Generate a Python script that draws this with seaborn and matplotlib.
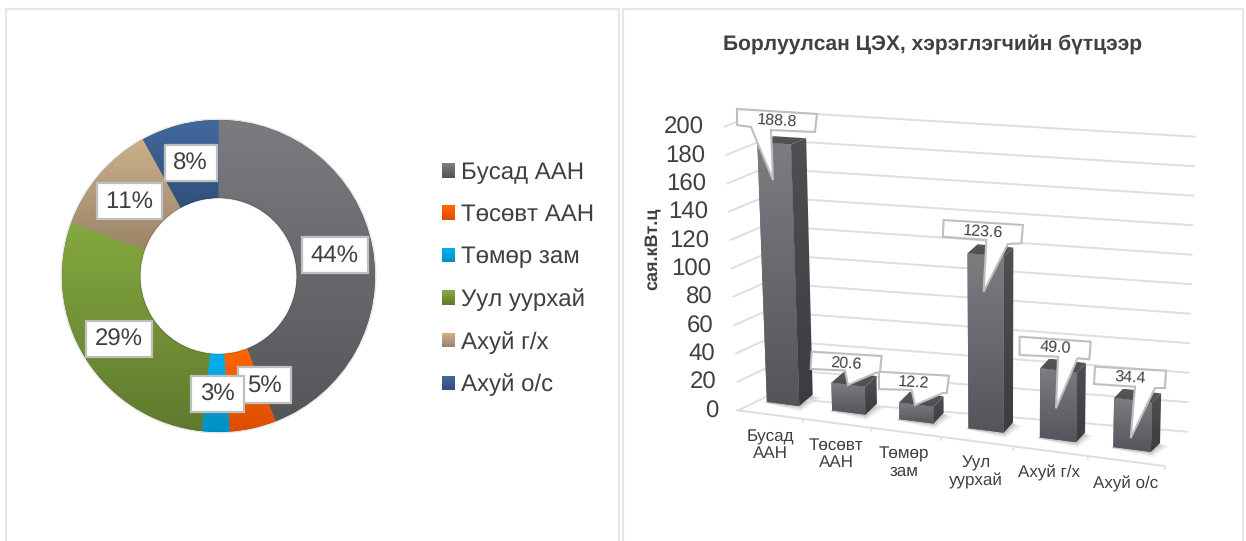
import numpy as np
import pandas as pd
import matplotlib
matplotlib.use("Agg")
import matplotlib.pyplot as plt
import matplotlib.transforms as mtransforms
from matplotlib.colors import to_rgb
from matplotlib.legend_handler import HandlerBase
from matplotlib.patches import Circle, Patch, Polygon, Rectangle
import seaborn as sns

# ---------- data ----------
legend_labels = ["Бусад ААН", "Төсөвт ААН", "Төмөр зам", "Уул уурхай", "Ахуй г/х", "Ахуй о/с"]
bar_categories = ["Бусад\nААН", "Төсөвт\nААН", "Төмөр\nзам", "Уул\nуурхай", "Ахуй г/х", "Ахуй о/с"]
values = [188.8, 20.6, 12.2, 123.6, 49.0, 34.4]
value_ticks = [0, 20, 40, 60, 80, 100, 120, 140, 160, 180, 200]
title = "Борлуулсан ЦЭХ, хэрэглэгчийн бүтцээр"
y_label = "сая.кВт.ц"

# ---------- styles ----------
top_colors = ["#7a7c80", "#ff6600", "#00b0f0", "#84a83f", "#cbb08a", "#41699c"]
bottom_colors = ["#55565a", "#dd4d00", "#0090c4", "#5f7a2e", "#9b8468", "#2f5079"]
TXT = "#404040"
GRID = "#dedede"
BOX = "#bfbfbf"

sns.set_theme(style="white")
plt.rcParams["font.family"] = ["Liberation Sans", "DejaVu Sans"]
plt.rcParams["text.hinting"] = "no_hinting"
plt.rcParams["text.hinting_factor"] = 1
plt.rcParams["text.kerning_factor"] = 6

W, H = 1246, 541
fig = plt.figure(figsize=(W / 100, H / 100), dpi=100, facecolor="white")


def pixel_axes(zorder, x0=0, y0=0, x1=W, y1=H):
    ax = fig.add_axes([x0 / W, 1 - y1 / H, (x1 - x0) / W, (y1 - y0) / H], zorder=zorder)
    ax.set_axis_off()
    ax.patch.set_alpha(0)
    return ax


page = pixel_axes(0)
page.set_xlim(0, W)
page.set_ylim(H, 0)
over = pixel_axes(3)
over.set_xlim(0, W)
over.set_ylim(H, 0)


def gradient(top, bottom, n=64):
    a, b = np.array(to_rgb(top)), np.array(to_rgb(bottom))
    return np.linspace(a, b, n).reshape(n, 1, 3)


# panel frames
for x0, x1 in [(6, 619), (622.5, 1243)]:
    page.add_patch(Rectangle((x0, 9), x1 - x0, H, fc="white", ec="#e6e6e6", lw=1.5))

# ---------- donut ----------
ax_pie = pixel_axes(1, 62, 120, 375, 432)
wedges, _ = ax_pie.pie(values, startangle=90, counterclock=False, radius=1,
                       colors=bottom_colors, wedgeprops=dict(width=0.5, linewidth=0))
for w, top, bot in zip(wedges, top_colors, bottom_colors):
    e = w.get_path().get_extents()
    im = ax_pie.imshow(gradient(top, bot), extent=(e.x0, e.x1, e.y0, e.y1),
                       aspect="auto", interpolation="bilinear", zorder=2)
    im.set_clip_path(w)
for r in (0.5, 1.004):
    ax_pie.add_patch(Circle((0, 0), r, fc="none", ec="black", lw=1.3, alpha=0.10, zorder=3, clip_on=False))
ax_pie.set_xlim(-1, 1)
ax_pie.set_ylim(-1, 1)

total = sum(values)
pct_boxes = [(302, 237, 367.5, 273), (238, 367, 290.5, 403), (191, 376, 244, 412),
             (86, 321, 152, 357), (97, 183, 162, 218.5), (164.5, 145, 216.5, 181)]
pct_order = [0, 1, 3, 4, 5, 2]
for i in pct_order:
    x0, y0, x1, y1 = pct_boxes[i]
    over.add_patch(Rectangle((x0, y0), x1 - x0, y1 - y0, fc="white", ec=BOX, lw=1.6))
    over.text((x0 + x1) / 2, (y0 + y1) / 2 + 0.5, f"{values[i] / total:.0%}", ha="center",
              va="center", fontsize=17.5, color=TXT)


# legend with gradient swatches
class GradientHandler(HandlerBase):
    def create_artists(self, legend, orig, xd, yd, width, height, fontsize, trans):
        n = 8
        grad = gradient(orig.top, orig.bot, n)
        return [Rectangle((xd * -1, -yd + height * (n - 1 - k) / n), width, height / n + 0.1,
                          fc=grad[k, 0], ec="none", transform=trans) for k in range(n)]


handles = []
for lab, t, b in zip(legend_labels, top_colors, bottom_colors):
    h = Patch(label=lab)
    h.top, h.bot = t, b
    handles.append(h)
page.legend(handles=handles, handler_map={Patch: GradientHandler()}, loc="upper left",
            bbox_to_anchor=(442, 161.5), bbox_transform=page.transData, frameon=False,
            fontsize=17, labelspacing=0.84, handlelength=0.56, handleheight=0.56,
            handletextpad=0.26, borderpad=0, borderaxespad=0, labelcolor=TXT)


# ---------- perspective bar chart ----------
class Homography(mtransforms.Transform):
    input_dims = output_dims = 2
    is_separable = False

    def __init__(self, src, dst):
        super().__init__()
        A, b = [], []
        for (u, v), (x, y) in zip(src, dst):
            A.append([u, v, 1, 0, 0, 0, -u * x, -v * x]); b.append(x)
            A.append([0, 0, 0, u, v, 1, -u * y, -v * y]); b.append(y)
        self.m = np.append(np.linalg.solve(np.array(A, float), np.array(b, float)), 1).reshape(3, 3)

    def transform_non_affine(self, pts):
        pts = np.asarray(pts, float)
        p = np.c_[pts, np.ones(len(pts))] @ self.m.T
        return p[:, :2] / p[:, 2:]


class WallMap(mtransforms.Transform):
    """Bilinear map of u in [0, 1], value in [0, 200] on a wall quadrilateral."""
    input_dims = output_dims = 2
    is_separable = False

    def __init__(self, p00, p10, p01, p11):
        super().__init__()
        self.c = [np.array(p, float) for p in (p00, p10, p01, p11)]

    def transform_non_affine(self, pts):
        pts = np.asarray(pts, float)
        u, v = pts[:, :1], pts[:, 1:] / 200
        p00, p10, p01, p11 = self.c
        return (1 - v) * ((1 - u) * p00 + u * p10) + v * ((1 - u) * p01 + u * p11)


grid_src = [(0, 0), (5, 0), (0, 200), (5, 200)]
front = Homography(grid_src, [(783, 404), (1132, 449.5), (773.5, 127), (1138, 152)])
back = Homography(grid_src, [(797, 392.5), (1141, 440.5), (789.5, 121.5), (1147, 143)])
floor = Homography(grid_src, [(769.5, 414.5), (1126, 461), (760, 137.5), (1132, 163.5)])
wall = WallMap((766, 397), (1187, 431.7), (764, 111), (1195, 136.7))
side_wall = WallMap((739, 410), (766, 397), (724.5, 126.7), (764, 111))

for v in value_ticks:
    page.plot([0, 1], [v, v], color=GRID, lw=1.4, transform=wall + page.transData, clip_on=False)
    page.plot([0, 1], [v, v], color=GRID, lw=1.4, transform=side_wall + page.transData, clip_on=False)
    # tick labels follow the left wall edge
    px, py = side_wall.transform_non_affine(np.array([[0, v]]))[0]
    page.text(px - 21, py + 1.2, str(v), ha="right", va="center", fontsize=17, color=TXT)

n_cat = len(values)
page.plot([-0.5, n_cat - 0.5], [0, 0], color=GRID, lw=1.4, transform=floor + page.transData, clip_on=False)
for k in range(1, n_cat + 1):
    page.plot([k - 0.5, k - 0.5], [0, -2.5], color=GRID, lw=1.2,
              transform=floor + page.transData, clip_on=False)

ax_bar = pixel_axes(2)
df = pd.DataFrame({"cat": bar_categories, "val": values})
sns.barplot(data=df, x="cat", y="val", color="#66686c", width=0.5, saturation=1, ax=ax_bar)
ax_bar.set_axis_off()

for rect in ax_bar.patches:
    rect.set_transform(front + page.transData)
    rect.set_clip_on(False)
    rect.set_linewidth(0)
    x0, x1 = rect.get_x(), rect.get_x() + rect.get_width()
    h = rect.get_height()
    quad = np.array([[x0, h], [x1, h], [x1, 0], [x0, 0]], float)
    f = front.transform_non_affine(quad)
    b = back.transform_non_affine(quad)
    # soft floor shadow
    for grow, alpha in [(9, 0.05), (6, 0.07), (3, 0.10)]:
        s = np.array([f[3] + [-2, 1], f[2] + [1, grow * 0.6], b[2] + [grow, grow * 0.4], b[3]])
        page.add_patch(Polygon(s, fc="black", ec="none", alpha=alpha))
    faces = [
        (f, "#7b7d81", "#54555a"),
        (np.array([f[1], b[1], b[2], f[2]]), "#4e5054", "#3b3c40"),
        (np.array([f[0], f[1], b[1], b[0]]), "#56575b", "#4e4f53"),
    ]
    for poly, c0, c1 in faces:
        ext = (poly[:, 0].min(), poly[:, 0].max(), poly[:, 1].max(), poly[:, 1].min())
        im = ax_bar.imshow(gradient(c0, c1), extent=ext, aspect="auto", interpolation="bilinear",
                           transform=page.transData, zorder=3)
        im.set_clip_path(Polygon(poly, transform=page.transData))
ax_bar.set_xlim(-1, 6)
ax_bar.set_ylim(0, 200)

# callouts: outline in page pixels, value text from the data
callouts = [
    [(737, 109), (817, 114), (815, 132), (771, 130), (773, 180), (751, 127), (737, 125)],
    [(879, 371.7), (949, 375.7), (946.7, 393), (943, 393), (915, 405), (911.7, 390), (879, 389)],
    [(811.7, 351.7), (881.7, 356), (880, 372), (875, 373), (848, 385), (845, 370.5), (810.7, 369)],
    [(943.6, 220), (1022.9, 225), (1021.4, 243.3), (1007.9, 244), (983.6, 291.7), (986.4, 240), (942.9, 236.7)],
    [(1019.6, 336.7), (1090.7, 341.7), (1089.3, 359.3), (1077.5, 358.3), (1056, 408.3), (1058, 356.7), (1019.6, 355)],
    [(1095, 366.7), (1166, 370.7), (1165, 388), (1155, 388), (1130.7, 438), (1135, 386.7), (1094, 384)],
]
label_xy = [(777, 120.7), (914, 383), (845.7, 364), (983, 232), (1055, 348), (1130, 378)]
label_vals = [values[0], values[2], values[1], values[3], values[4], values[5]]
for outline, (tx, ty), v in zip(callouts, label_xy, label_vals):
    over.add_patch(Polygon(outline, fc="white", ec=BOX, lw=1.5, joinstyle="miter"))
    over.text(tx, ty, f"{v:.1f}", ha="center", va="center", rotation=-3.5, fontsize=11.5,
              color=TXT, rotation_mode="anchor")

# category labels
label_pos = [(770.5, 445.3), (836, 453.8), (904, 462.5), (976, 472), (1049, 472.7), (1125.6, 484)]
for (tx, ty), lab in zip(label_pos, bar_categories):
    page.text(tx, ty, lab, ha="center", va="center", fontsize=12, color=TXT, linespacing=1.1)

page.text(932.5, 44.5, title, ha="center", va="center", fontsize=15.2, fontweight="bold", color=TXT)
page.text(652, 249, y_label, ha="center", va="center", rotation=90, fontsize=13,
          fontweight="bold", color=TXT)

fig.savefig("out.png", dpi=100, facecolor="white")
